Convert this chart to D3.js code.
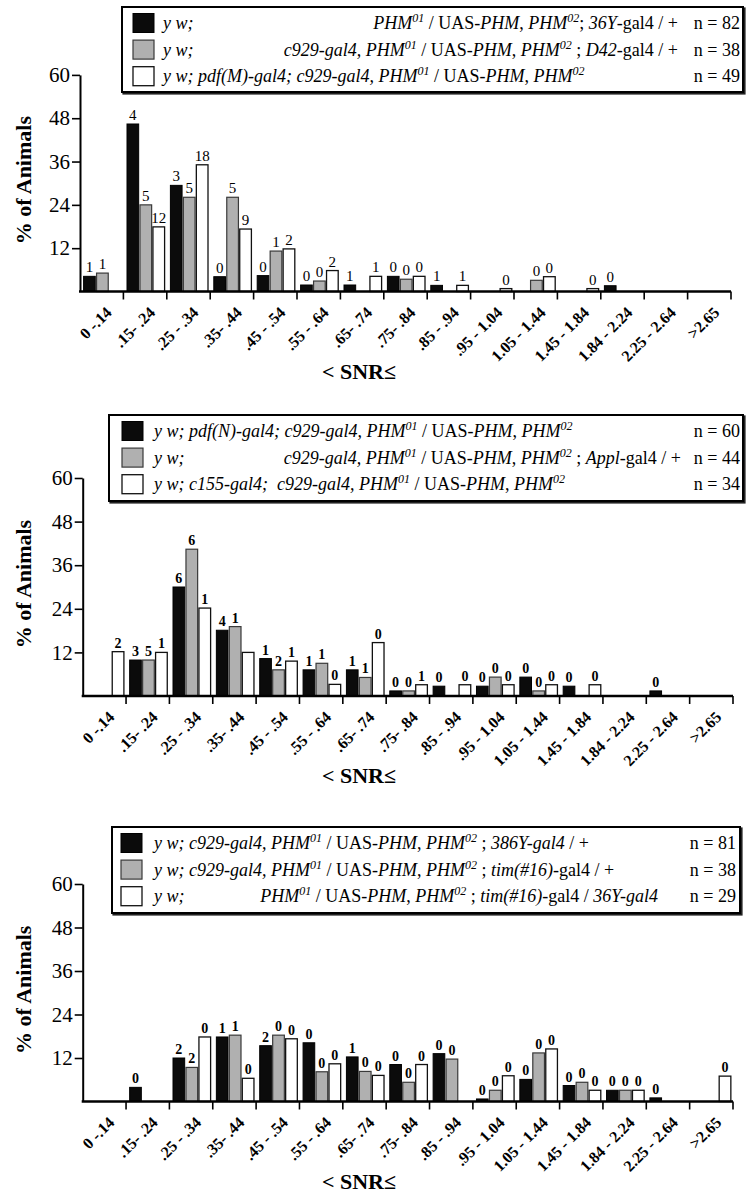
<!DOCTYPE html>
<html><head><meta charset="utf-8">
<script src="https://cdn.jsdelivr.net/npm/d3@7"></script>
<style>body{margin:0;background:#fff} svg{display:block;font-family:"Liberation Serif","Times New Roman",serif}</style>
</head><body><svg id="c" width="747" height="1199"></svg>
<script>
// ---------- data ----------
const categories = ["0 -.14", ".15- .24", ".25 - .34", ".35- .44", ".45 - .54", ".55 - .64", ".65- .74", ".75- .84", ".85 - .94", ".95 - 1.04", "1.05 - 1.44", "1.45 - 1.84", "1.84 - 2.24", "2.25 - 2.64", ">2.65"];
const yTicks = [12, 24, 36, 48, 60];
const seriesKeys = ["black", "gray", "white"];

// Panel 1 (% of animals, null = no bar)
const p1Black = [4.2, 46.4, 29.4, 4.1, 4.4, 1.8, 1.8, 4.2, 1.7, null, null, null, 1.6, null, null];
const p1Gray  = [5.1, 24.0, 26.1, 26.1, 11.2, 2.9, null, 3.4, null, null, 3.1, null, null, null, null];
const p1White = [null, 17.9, 35.1, 17.3, 11.8, 5.8, 4.2, 4.2, 1.7, 0.8, 4.1, 0.8, null, null, null];
const p1BlackLbl = ["1", "4", "3", "0", "0", "0", "1", "0", "1", null, null, null, "0", null, null];
const p1GrayLbl  = ["1", "5", "5", "5", "1", "0", null, "0", null, null, "0", null, null, null, null];
const p1WhiteLbl = [null, "12", "18", "9", "2", "2", "1", "0", "1", "0", "0", "0", null, null, null];
const p1N = ["n = 82", "n = 38", "n = 49"];

// Panel 2
const p2Black = [null, 9.9, 30.0, 18.1, 10.3, 7.2, 7.2, 1.4, 2.7, 2.7, 5.2, 2.7, null, 1.4, null];
const p2Gray  = [null, 9.9, 40.4, 19.1, 7.2, 9.0, 5.1, 1.4, null, 5.2, 1.4, null, null, null, null];
const p2White = [12.2, 12.0, 24.2, 12.0, 9.6, 3.2, 14.7, 3.1, 3.1, 3.1, 3.1, 3.1, null, null, null];
const p2BlackLbl = [null, "3", "6", "4", "1", "1", "1", "0", "0", "0", "0", "0", null, "0", null];
const p2GrayLbl  = [null, "5", "6", "1", "2", "1", "1", "0", null, "0", "0", null, null, null, null];
const p2WhiteLbl = ["2", "1", "1", null, "1", "0", "0", "1", "0", "0", "0", "0", null, null, null];
const p2N = ["n = 60", "n = 44", "n = 34"];

// Panel 3
const p3Black = [null, 3.9, 12.0, 17.8, 15.4, 16.2, 12.3, 10.2, 13.2, 0.7, 6.1, 4.4, 3.1, 1.0, null];
const p3Gray  = [null, null, 9.4, 18.3, 18.3, 8.2, 8.3, 5.3, 11.7, 3.1, 13.4, 5.3, 3.1, null, null];
const p3White = [null, null, 17.8, 6.4, 17.3, 10.4, 7.2, 10.2, null, 7.1, 14.5, 3.1, 3.1, null, 7.0];
const p3BlackLbl = [null, "0", "2", "1", "2", "0", "1", "0", "0", "0", "0", "0", "0", "0", null];
const p3GrayLbl  = [null, null, "2", "1", "0", "0", "0", "0", "0", "0", "0", "0", "0", null, null];
const p3WhiteLbl = [null, null, "0", "0", "0", "0", "0", "0", null, "0", "0", "0", "0", null, "0"];
const p3N = ["n = 81", "n = 38", "n = 29"];

// Legend genotype texts (*italic*, ^superscript^)
const p1Legend = [
  {prefix: "y w;", body: "*PHM*^01^ / UAS-*PHM*, *PHM*^02^; *36Y*-gal4 / +", align: "end"},
  {prefix: "y w;", body: "*c929-gal4, PHM*^01^ / UAS-*PHM*, *PHM*^02^ ; *D42*-gal4 / +", align: "end"},
  {prefix: null, body: "*y w; pdf(M)-gal4; c929-gal4, PHM*^01^ / UAS-*PHM*, *PHM*^02^", align: "start"}
];
const p2Legend = [
  {prefix: null, body: "*y w; pdf(N)-gal4; c929-gal4, PHM*^01^ / UAS-*PHM*, *PHM*^02^", align: "start"},
  {prefix: "y w;", body: "*c929-gal4, PHM*^01^ / UAS-*PHM*, *PHM*^02^ ; *Appl*-gal4 / +", align: "end"},
  {prefix: null, body: "*y w; c155-gal4;  c929-gal4, PHM*^01^ / UAS-*PHM*, *PHM*^02^", align: "start"}
];
const p3Legend = [
  {prefix: null, body: "*y w; c929-gal4, PHM*^01^ / UAS-*PHM*, *PHM*^02^ ; *386Y-gal4* / +", align: "start"},
  {prefix: null, body: "*y w; c929-gal4, PHM*^01^ / UAS-*PHM*, *PHM*^02^ ; *tim(#16)*-gal4 / +", align: "start"},
  {prefix: "y w;", body: "*PHM*^01^ / UAS-*PHM*, *PHM*^02^ ; *tim(#16)*-gal4 / *36Y-gal4*", align: "end"}
];

const yTitle = "% of Animals";
const xTitle = "< SNR\u2264";

// ---------- drawing ----------
const svg = d3.select("#c");
const styles = {
  black: {fill: "#0b0b0b", stroke: "#000", sw: 1},
  gray:  {fill: "#b0b0b0", stroke: "#3a3a3a", sw: 1.2},
  white: {fill: "#ffffff", stroke: "#111", sw: 1.3}
};

function parseMarkup(s) {
  const segs = []; let it = false, sup = false, cur = "";
  for (const ch of s) {
    if (ch === "*" || ch === "^") {
      if (cur) segs.push({t: cur, it, sup}); cur = "";
      if (ch === "*") it = !it; else sup = !sup;
    } else cur += ch;
  }
  if (cur) segs.push({t: cur, it, sup});
  return segs;
}

function richText(g, x, y, markup, anchor) {
  const t = g.append("text").attr("x", x).attr("y", y).attr("text-anchor", anchor)
    .attr("font-size", 18).style("white-space", "pre");
  let raised = false;
  parseMarkup(markup).forEach(s => {
    const ts = t.append("tspan").text(s.t).attr("font-style", s.it || s.sup ? "italic" : "normal");
    if (s.sup) { ts.attr("font-size", 12).attr("dy", raised ? 0 : -7); raised = true; }
    else if (raised) { ts.attr("dy", 7); raised = false; }
  });
  return t;
}

function drawPanel(cfg) {
  const g = svg.append("g");
  const x = d3.scaleBand().domain(categories).range([cfg.x0, cfg.x1]).paddingInner(0).paddingOuter(0);
  const xs = d3.scaleBand().domain(seriesKeys).range([3.6, 41.2]).paddingInner(0.1).paddingOuter(0);
  const y = d3.scaleLinear().domain([0, 60]).range([cfg.base, cfg.top]);

  // bars
  seriesKeys.forEach((k, si) => {
    const vals = cfg.values[si], lbls = cfg.labels[si], st = styles[k];
    const data = categories.map((c, i) => ({c, v: vals[i], l: lbls[i]})).filter(d => d.v != null);
    g.selectAll(null).data(data).join("rect")
      .attr("x", d => x(d.c) + xs(k)).attr("width", xs.bandwidth())
      .attr("y", d => y(d.v)).attr("height", d => y(0) - y(d.v))
      .attr("fill", st.fill).attr("stroke", st.stroke).attr("stroke-width", st.sw);
    g.selectAll(null).data(data.filter(d => d.l != null)).join("text")
      .attr("x", d => x(d.c) + xs(k) + xs.bandwidth() / 2).attr("y", d => y(d.v) - 4)
      .attr("text-anchor", "middle").attr("font-size", cfg.lblSize)
      .attr("font-weight", cfg.lblBold ? "bold" : "normal").text(d => d.l);
  });

  // y axis
  const ya = g.append("g").attr("transform", `translate(${cfg.x0},0)`)
    .call(d3.axisLeft(y).tickValues(yTicks).tickSize(8).tickSizeOuter(0).tickPadding(2));
  ya.select(".domain").attr("stroke-width", 2).attr("stroke", "#000");
  ya.selectAll(".tick line").attr("stroke-width", 1.6).attr("stroke", "#000");
  ya.selectAll(".tick text").attr("font-size", 21).attr("font-family", "Liberation Serif").attr("fill", "#000");

  // x axis: baseline + boundary ticks
  g.append("line").attr("x1", cfg.x0 - 1).attr("x2", cfg.x1).attr("y1", cfg.base).attr("y2", cfg.base)
    .attr("stroke", "#000").attr("stroke-width", 2.6);
  g.selectAll(null).data(categories).join("line")
    .attr("x1", d => x(d) + x.bandwidth()).attr("x2", d => x(d) + x.bandwidth())
    .attr("y1", cfg.base).attr("y2", cfg.base + 8).attr("stroke", "#000").attr("stroke-width", 1.6);
  g.selectAll(null).data(categories).join("text")
    .attr("transform", d => `translate(${x(d) + x.bandwidth() / 2 + 11},${cfg.base + 22}) rotate(-45)`)
    .attr("text-anchor", "end").attr("font-size", 16).attr("font-weight", "bold")
    .style("white-space", "pre").text(d => d);

  // titles
  g.append("text").attr("transform", `translate(31,${(cfg.base + cfg.top) / 2 - 3}) rotate(-90)`)
    .attr("text-anchor", "middle").attr("font-size", 22).attr("font-weight", "bold").text(yTitle);
  g.append("text").attr("x", 359).attr("y", cfg.base + 87).attr("text-anchor", "middle")
    .attr("font-size", 22).attr("font-weight", "bold").text(xTitle);

  // legend
  const L = cfg.legend;
  g.append("rect").attr("x", L.x + 1.5).attr("y", L.y + 1.5).attr("width", L.w).attr("height", L.h)
    .attr("fill", "none").attr("stroke", "#222").attr("stroke-width", 2.2);
  g.append("rect").attr("x", L.x).attr("y", L.y).attr("width", L.w).attr("height", L.h)
    .attr("fill", "#fff").attr("stroke", "#000").attr("stroke-width", 2);
  cfg.legendRows.forEach((r, i) => {
    const cy = L.y + 16 + i * 26.6;
    const st = styles[seriesKeys[i]];
    g.append("rect").attr("x", L.sx).attr("y", cy - 9.5).attr("width", 21).attr("height", 19)
      .attr("fill", st.fill).attr("stroke", st.stroke).attr("stroke-width", st.sw);
    const ty = cy + 6;
    if (r.prefix) g.append("text").attr("x", L.tx).attr("y", ty).attr("font-size", 18)
      .attr("font-style", "italic").text(r.prefix);
    if (r.align === "end") richText(g, L.bodyEnd, ty, r.body, "end");
    else richText(g, L.tx, ty, r.body, "start");
    g.append("text").attr("x", L.nx).attr("y", ty).attr("text-anchor", "end")
      .attr("font-size", 18).text(cfg.n[i]);
  });
}

drawPanel({x0: 80, x1: 731, base: 291.5, top: 74.9,
  values: [p1Black, p1Gray, p1White], labels: [p1BlackLbl, p1GrayLbl, p1WhiteLbl],
  lblSize: 15, lblBold: false, n: p1N, legendRows: p1Legend,
  legend: {x: 122, y: 7, w: 621, h: 85, sx: 133, tx: 163, bodyEnd: 678, nx: 740}});
drawPanel({x0: 82.7, x1: 733, base: 696, top: 478,
  values: [p2Black, p2Gray, p2White], labels: [p2BlackLbl, p2GrayLbl, p2WhiteLbl],
  lblSize: 14, lblBold: true, n: p2N, legendRows: p2Legend,
  legend: {x: 109, y: 415, w: 634, h: 86, sx: 122, tx: 154, bodyEnd: 681, nx: 740}});
drawPanel({x0: 82.7, x1: 733, base: 1101.5, top: 884,
  values: [p3Black, p3Gray, p3White], labels: [p3BlackLbl, p3GrayLbl, p3WhiteLbl],
  lblSize: 14, lblBold: true, n: p3N, legendRows: p3Legend,
  legend: {x: 112, y: 827, w: 628, h: 86, sx: 121, tx: 154, bodyEnd: 658, nx: 736}});
</script></body></html>
